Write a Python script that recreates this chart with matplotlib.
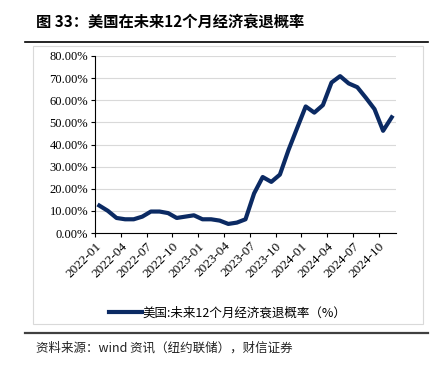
import numpy as np
import matplotlib
matplotlib.use("Agg")
import matplotlib.pyplot as plt
from matplotlib.patches import Rectangle
from matplotlib.lines import Line2D

plt.rcParams["font.family"] = ["Liberation Serif", "Noto Sans CJK SC"]

months = [f"{y}-{m:02d}" for y in (2022, 2023, 2024) for m in range(1, 13)][:35]
prob = [12.4, 10.0, 6.8, 6.2, 6.2, 7.4, 9.7, 9.7, 9.0, 6.8, 7.4, 8.0,
        6.2, 6.2, 5.6, 4.1, 4.7, 6.2, 17.9, 25.3, 23.1, 26.4, 37.5, 47.4,
        57.2, 54.4, 57.8, 68.0, 70.9, 67.6, 65.9, 61.1, 56.0, 46.2, 52.3]
yticks = [0, 10, 20, 30, 40, 50, 60, 70, 80]
series_name = "美国:未来12个月经济衰退概率（%）"
title = "图 33：美国在未来12个月经济衰退概率"
source = "资料来源：wind 资讯（纽约联储），财信证券"

fig = plt.figure(figsize=(4.39, 3.68), dpi=100)

# frame around the chart
fig.patches.append(Rectangle((33 / 439, 1 - 324 / 368), 390 / 439, 278 / 368,
                             transform=fig.transFigure, fill=False,
                             edgecolor="#d9d9d9", linewidth=0.8))
fig.lines.append(Line2D([25 / 439, 428 / 439], [1 - 42 / 368] * 2,
                        transform=fig.transFigure, color="black", linewidth=1.2))
fig.lines.append(Line2D([25 / 439, 428 / 439], [1 - 333 / 368] * 2,
                        transform=fig.transFigure, color="#404040", linewidth=1.6))

fig.text(36 / 439, 1 - 22 / 368, title, fontsize=11, fontweight="bold",
         family=["Noto Sans CJK SC"], va="center", ha="left")
fig.text(36 / 439, 1 - 348 / 368, source, fontsize=9, style="italic",
         family=["Noto Sans CJK SC"], va="center", ha="left", color="#222222")

ax = fig.add_axes([95 / 439, 1 - 233 / 368, 301 / 439, 177 / 368])
x = np.arange(len(prob)) + 0.5
ax.plot(x, prob, color="#0b2a63", linewidth=3, solid_joinstyle="round")

ax.set_xlim(0, len(prob))
ax.set_ylim(0, 80)
ax.set_yticks(yticks)
ax.set_yticklabels([f"{v:.2f}%" for v in yticks], fontsize=9)
ax.set_xticks(np.arange(0, len(prob), 3))
ax.set_xticklabels(months[::3], rotation=45, ha="right", rotation_mode="anchor",
                   fontsize=9.5)
ax.grid(axis="y", color="#d9d9d9", linewidth=0.8)
ax.set_axisbelow(True)
for s in ("top", "right"):
    ax.spines[s].set_visible(False)
for s in ("left", "bottom"):
    ax.spines[s].set_color("black")
    ax.spines[s].set_linewidth(0.8)
ax.tick_params(direction="out", length=3, width=0.8, pad=2)

handle = Line2D([], [], color="#0b2a63", linewidth=3)
fig.legend([handle], [series_name], loc="center", frameon=False,
           bbox_to_anchor=(228 / 439, 1 - 313 / 368),
           prop={"family": ["Noto Sans CJK SC"], "size": 9},
           handlelength=2.6, handletextpad=0.1)

fig.savefig("out.png", dpi=100)
